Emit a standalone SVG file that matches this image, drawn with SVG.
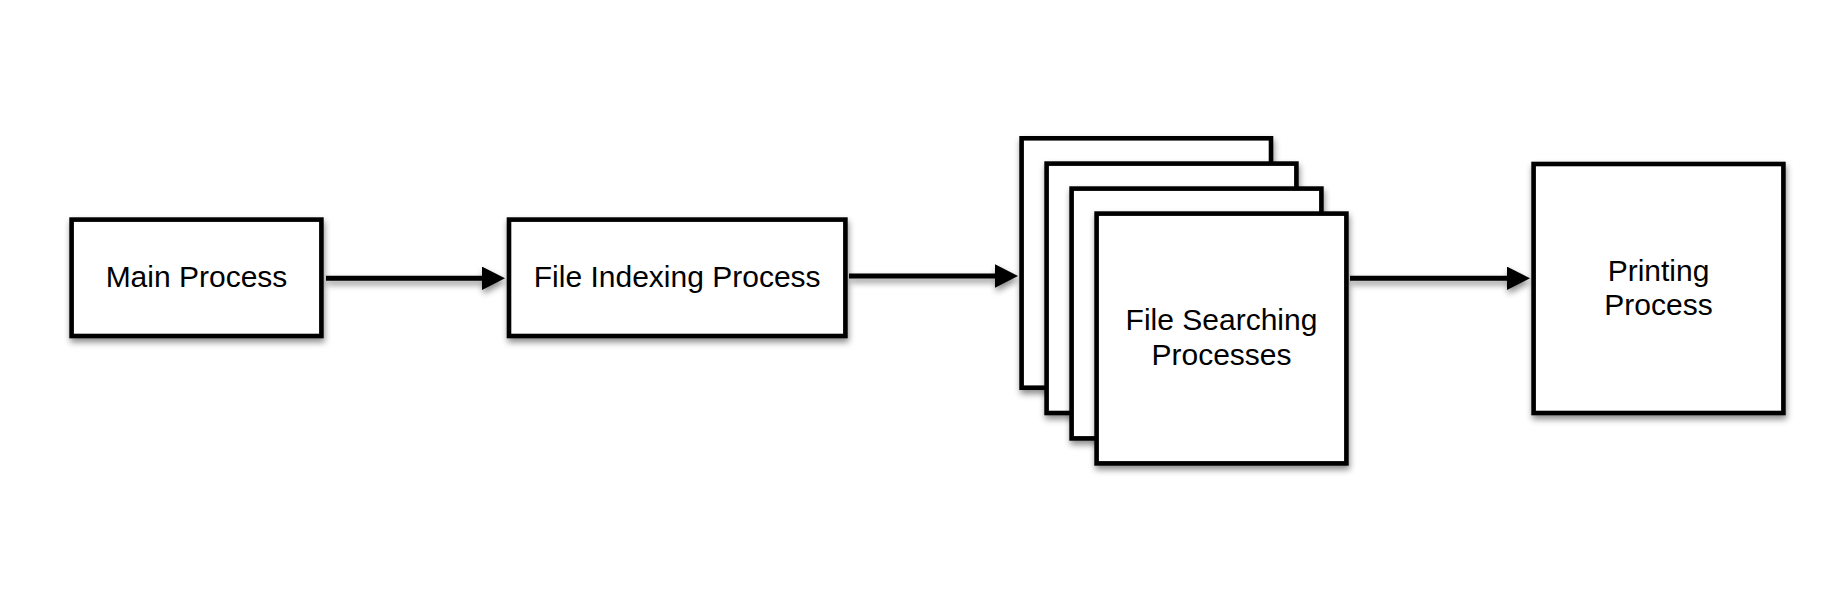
<svg xmlns="http://www.w3.org/2000/svg" width="1836" height="600" viewBox="0 0 1836 600">
  <defs>
    <filter id="shadow" filterUnits="userSpaceOnUse" x="0" y="0" width="1836" height="600">
      <feDropShadow dx="1" dy="4" stdDeviation="3" flood-color="#000" flood-opacity="0.45"/>
    </filter>
    <marker id="arrow" markerUnits="userSpaceOnUse" markerWidth="24" markerHeight="24" refX="0" refY="11.7" orient="auto">
      <path d="M0,0 L23,11.7 L0,23.4 z" fill="#000"/>
    </marker>
    <style>
      .box { fill: #fff; stroke: #000; stroke-width: 4.6; filter: url(#shadow); }
      .lbl { font-family: "Liberation Sans", Arial, Helvetica, sans-serif; font-size: 30px; fill: #000; text-anchor: middle; }
      .conn { stroke: #000; stroke-width: 5; fill: none; marker-end: url(#arrow); }
    </style>
  </defs>
  <rect width="1836" height="600" fill="#fff"/>

  <g id="connectors" filter="url(#shadow)">
    <line class="conn" x1="326" y1="278.3" x2="482" y2="278.3"/>
    <line class="conn" x1="849" y1="276" x2="995" y2="276"/>
    <line class="conn" x1="1350" y1="278.3" x2="1507" y2="278.3"/>
  </g>

  <g id="main-process">
    <rect class="box" x="71.6" y="219.6" width="249.8" height="116.4"/>
    <text class="lbl" x="196.5" y="287.3">Main Process</text>
  </g>

  <g id="file-indexing-process">
    <rect class="box" x="509" y="219.6" width="336.4" height="116.4"/>
    <text class="lbl" x="677.2" y="287.3">File Indexing Process</text>
  </g>

  <g id="file-searching-processes">
    <rect class="box" x="1021.6" y="138.3" width="249.4" height="249.4"/>
    <rect class="box" x="1046.6" y="163.6" width="249.8" height="249.4"/>
    <rect class="box" x="1071.6" y="188.6" width="249.8" height="249.8"/>
    <rect class="box" x="1096.6" y="213.6" width="249.8" height="249.8"/>
    <text class="lbl" x="1221.5" y="330">File Searching</text>
    <text class="lbl" x="1221.5" y="364.8">Processes</text>
  </g>

  <g id="printing-process">
    <rect class="box" x="1533.6" y="164" width="249.8" height="249"/>
    <text class="lbl" x="1658.5" y="280.7">Printing</text>
    <text class="lbl" x="1658.5" y="315">Process</text>
  </g>
</svg>
